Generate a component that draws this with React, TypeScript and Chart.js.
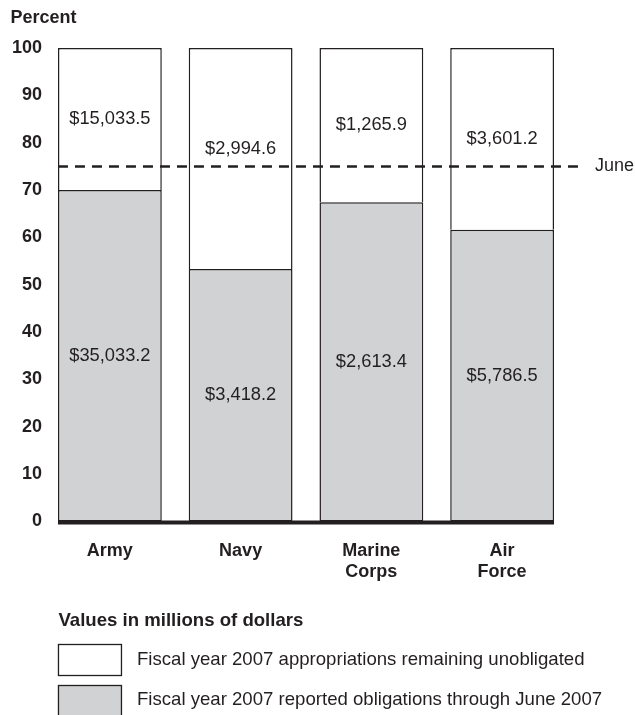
import React, { useEffect, useRef } from "react";
import { Chart, registerables } from "chart.js";

Chart.register(...registerables);

// ---- data ----
const categories: string[][] = [["Army"], ["Navy"], ["Marine", "Corps"], ["Air", "Force"]];
const obligatedPercent = [70, 53.3, 67.4, 61.6];
const remainingPercent = [30, 46.7, 32.6, 38.4];
const obligatedLabels = ["$35,033.2", "$3,418.2", "$2,613.4", "$5,786.5"];
const remainingLabels = ["$15,033.5", "$2,994.6", "$1,265.9", "$3,601.2"];
const juneMark = 75;
const juneLabel = "June";
const yAxisTitle = "Percent";
const legendTitle = "Values in millions of dollars";
const legendLabels = [
  "Fiscal year 2007 appropriations remaining unobligated",
  "Fiscal year 2007 reported obligations through June 2007",
];

// ---- styles ----
const FONT = '"Liberation Sans", Arial, Helvetica, sans-serif';
const INK = "#231f20";
const GRAY = "#d1d2d4";
const WHITE = "#ffffff";

const decor = {
  id: "decor",
  afterDatasetsDraw(chart: any) {
    const ctx = chart.ctx as CanvasRenderingContext2D;
    const y = chart.scales.y;
    const area = chart.chartArea;
    const metaO = chart.getDatasetMeta(0);
    const metaR = chart.getDatasetMeta(1);
    const first = metaO.data[0].getProps(["x", "width"], true);
    const lastEl = metaO.data[metaO.data.length - 1].getProps(["x", "width"], true);
    const left = first.x - first.width / 2;
    const right = lastEl.x + lastEl.width / 2;

    ctx.save();
    // June dashed line
    const yj = y.getPixelForValue(juneMark);
    ctx.strokeStyle = INK;
    ctx.lineWidth = 2.5;
    ctx.setLineDash([10, 7]);
    ctx.beginPath();
    ctx.moveTo(left, yj);
    ctx.lineTo(area.right + 15, yj);
    ctx.stroke();
    ctx.setLineDash([]);
    ctx.fillStyle = INK;
    ctx.font = `18px ${FONT}`;
    ctx.textAlign = "left";
    ctx.textBaseline = "middle";
    ctx.fillText(juneLabel, area.right + 27.5, yj);

    // thick zero baseline
    const y0 = y.getPixelForValue(0);
    ctx.fillRect(left, y0 - 1, right - left, 4);

    // value labels
    ctx.font = `18.3px ${FONT}`;
    ctx.textAlign = "center";
    metaO.data.forEach((el: any, i: number) => {
      const p = el.getProps(["x", "y", "base"], true);
      ctx.fillText(obligatedLabels[i], p.x, (p.y + p.base) / 2);
    });
    metaR.data.forEach((el: any, i: number) => {
      const p = el.getProps(["x", "y", "base"], true);
      let cy = (p.y + p.base) / 2;
      if (Math.abs(cy - yj) < 16) cy = yj - 17;
      ctx.fillText(remainingLabels[i], p.x, cy);
    });
    ctx.restore();
  },
  afterDraw(chart: any) {
    const ctx = chart.ctx as CanvasRenderingContext2D;
    const metaO = chart.getDatasetMeta(0);
    const first = metaO.data[0].getProps(["x", "width"], true);
    const left = first.x - first.width / 2;
    ctx.save();
    ctx.fillStyle = INK;
    ctx.textBaseline = "middle";
    ctx.textAlign = "left";
    ctx.font = `bold 18px ${FONT}`;
    ctx.fillText(yAxisTitle, 10.5, 18.5);
    ctx.font = `bold 18.6px ${FONT}`;
    ctx.fillText(legendTitle, left + 0.5, 621);

    const fills = [WHITE, GRAY];
    ctx.font = `18.6px ${FONT}`;
    legendLabels.forEach((t, i) => {
      const top = 644 + i * 41;
      ctx.fillStyle = fills[i];
      ctx.fillRect(left, top, 64, 32);
      ctx.strokeStyle = INK;
      ctx.lineWidth = 1.3;
      ctx.strokeRect(left + 0.5, top + 0.5, 63, 31);
      ctx.fillStyle = INK;
      ctx.fillText(t, left + 79, top + 16 - i * 1.5);
    });
    ctx.restore();
  },
};

export default function App() {
  const ref = useRef<HTMLCanvasElement | null>(null);
  useEffect(() => {
    if (!ref.current) return;
    const chart = new Chart(ref.current, {
      type: "bar",
      data: {
        labels: categories,
        datasets: [
          {
            label: legendLabels[1],
            data: obligatedPercent,
            backgroundColor: GRAY,
            borderColor: INK,
            borderWidth: 1.5,
            borderSkipped: false,
            barPercentage: 0.794,
            categoryPercentage: 1,
          },
          {
            label: legendLabels[0],
            data: remainingPercent,
            backgroundColor: WHITE,
            borderColor: INK,
            borderWidth: 1.5,
            borderSkipped: "bottom",
            barPercentage: 0.794,
            categoryPercentage: 1,
          },
        ],
      },
      options: {
        responsive: false,
        animation: false,
        devicePixelRatio: 1,
        layout: { padding: { top: 48, right: 67.5, left: 0, bottom: 0 } },
        plugins: { legend: { display: false }, tooltip: { enabled: false }, title: { display: false } },
        scales: {
          x: {
            stacked: true,
            grid: { display: false, drawTicks: false, tickLength: 0 },
            border: { display: false },
            ticks: {
              color: INK,
              padding: 19,
              maxRotation: 0,
              autoSkip: false,
              font: { family: FONT, size: 18, weight: "bold", lineHeight: 21 / 18 },
            },
            afterFit: (s: any) => {
              s.height = 193.5;
            },
          },
          y: {
            stacked: true,
            min: 0,
            max: 100,
            grid: { display: false, drawTicks: false, tickLength: 0 },
            border: { display: false },
            ticks: {
              stepSize: 10,
              color: INK,
              padding: 2.5,
              font: { family: FONT, size: 18, weight: "bold" },
            },
            afterFit: (s: any) => {
              s.width = 44.5;
            },
          },
        },
      },
      plugins: [decor],
    });
    return () => chart.destroy();
  }, []);
  return (
    <div style={{ position: "absolute", left: 0, top: 0, width: 635, height: 715, background: "#fff" }}>
      <canvas ref={ref} width={635} height={715} style={{ display: "block" }} />
    </div>
  );
}
